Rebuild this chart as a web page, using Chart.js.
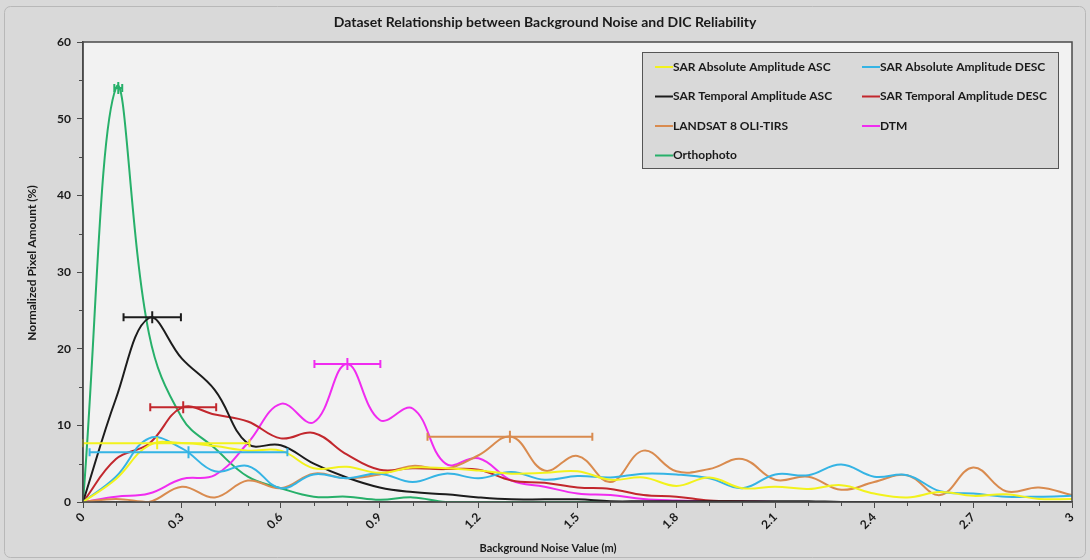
<!DOCTYPE html>
<html>
<head>
<meta charset="utf-8">
<script src="https://cdn.jsdelivr.net/npm/chart.js@4"></script>
<style>
  body { margin: 0; background: #d9d9d9; }
  canvas { display: block; }
</style>
</head>
<body>
<canvas id="noiseChart" width="1090" height="560"></canvas>
<script>
// sample positions along the x axis (m)
const noiseValues = [0, 0.1, 0.2, 0.3, 0.4, 0.5, 0.6, 0.7, 0.8, 0.9, 1.0, 1.1, 1.2, 1.3, 1.4, 1.5,
    1.6, 1.7, 1.8, 1.9, 2.0, 2.1, 2.2, 2.3, 2.4, 2.5, 2.6, 2.7, 2.8, 2.9, 3.0];

const sarAbsAsc = [0, 3.0, 7.4, 7.7, 7.3, 6.7, 6.7, 4.4, 4.6, 3.8, 4.5, 4.4, 4.1, 3.7, 3.8, 4.0,
    2.9, 3.2, 2.1, 3.2, 1.8, 2.0, 1.7, 2.2, 1.1, 0.6, 1.3, 0.8, 1.0, 0.4, 0.4];
const sarAbsDesc = [0, 3.3, 8.3, 7.0, 4.0, 4.7, 1.8, 3.6, 3.1, 3.7, 2.6, 3.7, 3.1, 3.9, 2.9, 3.4,
    3.2, 3.7, 3.6, 3.1, 1.8, 3.6, 3.5, 4.9, 3.3, 3.5, 1.4, 1.1, 0.7, 0.7, 0.8];
const sarTempAsc = [0, 13.5, 24.0, 18.7, 14.6, 7.6, 7.4, 5.0, 3.2, 1.9, 1.3, 1.0, 0.6, 0.35, 0.35, 0.35,
    0.1, 0.1, 0.1, 0.1, 0.1, 0.1, 0.1, 0, 0, 0, 0, 0, 0, 0, 0];
const sarTempDesc = [0, 5.6, 7.6, 12.3, 11.4, 10.5, 8.3, 9.0, 6.2, 4.2, 4.4, 4.3, 4.2, 2.8, 2.5, 1.9,
    1.7, 0.9, 0.7, 0.2, 0.1, 0, 0, 0, 0, 0, 0, 0, 0, 0, 0];
const landsat = [0, 0.4, 0, 2.0, 0.6, 2.8, 1.8, 3.7, 3.1, 3.6, 4.7, 4.3, 6.1, 8.5, 4.1, 6.0,
    2.6, 6.7, 4.0, 4.3, 5.6, 2.9, 3.3, 1.6, 2.6, 3.5, 0.9, 4.5, 1.4, 1.9, 0.9];
const dtm = [0, 0.7, 1.1, 3.0, 3.5, 7.7, 12.8, 10.4, 18.0, 10.7, 12.2, 5.0, 5.7, 2.8, 2.0, 1.1,
    0.9, 0.4, 0.2, 0.1, 0.1, 0, 0, 0, 0, 0, 0, 0, 0, 0, 0];
const orthophoto = [0, 54.0, 22.0, 11.0, 7.0, 3.3, 1.8, 0.7, 0.7, 0.3, 0.6, 0, 0, 0, 0, 0,
    0, 0, 0, 0, 0, 0, 0, 0, 0, 0, 0, 0, 0, 0, 0];

const seriesNames = ['SAR Absolute Amplitude ASC', 'SAR Absolute Amplitude DESC', 'SAR Temporal Amplitude ASC',
    'SAR Temporal Amplitude DESC', 'LANDSAT 8 OLI-TIRS', 'DTM', 'Orthophoto'];
const seriesValues = [sarAbsAsc, sarAbsDesc, sarTempAsc, sarTempDesc, landsat, dtm, orthophoto];
const seriesColors = ['#f2f21c', '#35b4e4', '#1c1c1c', '#c2272d', '#d98b4f', '#f02cf0', '#27b06a'];

// horizontal error bars: centre x, centre y, half width (same order as the series)
const errCenterX = [0.225, 0.32, 0.21, 0.304, 1.295, 0.802, 0.107];
const errCenterY = [7.65, 6.5, 24.1, 12.35, 8.5, 18.0, 54.0];
const errHalfWidth = [0.28, 0.30, 0.087, 0.10, 0.25, 0.10, 0.012];

const xTicks = [0, 0.3, 0.6, 0.9, 1.2, 1.5, 1.8, 2.1, 2.4, 2.7, 3];
const xTickLabels = ['0', '0.3', '0.6', '0.9', '1.2', '1.5', '1.8', '2.1', '2.4', '2.7', '3'];
const xMinorTicks = [0.1, 0.2, 0.4, 0.5, 0.7, 0.8, 1.0, 1.1, 1.3, 1.4, 1.6, 1.7, 1.9, 2.0, 2.2, 2.3, 2.5, 2.6, 2.8, 2.9];
const yMinorTicks = [5, 15, 25, 35, 45, 55];

const FONT = 'Lato, "Open Sans", sans-serif';

const chartFrame = {
    id: 'chartFrame',
    beforeDraw(chart) {
        const { ctx, chartArea: a } = chart;
        ctx.save();
        ctx.fillStyle = '#d9d9d9';
        ctx.fillRect(0, 0, chart.width, chart.height);
        ctx.strokeStyle = '#b8b8b8';
        ctx.lineWidth = 1;
        ctx.beginPath();
        ctx.roundRect(4.5, 6.5, chart.width - 9, chart.height - 9, 6);
        ctx.stroke();
        ctx.fillStyle = '#f2f2f2';
        ctx.fillRect(a.left, a.top, a.right - a.left, a.bottom - a.top);
        ctx.restore();
    },
    afterDatasetsDraw(chart) {
        const { ctx } = chart;
        const xs = chart.scales.x, ys = chart.scales.y;
        ctx.save();
        ctx.lineWidth = 2;
        seriesColors.forEach((color, i) => {
            const y = ys.getPixelForValue(errCenterY[i]);
            const cx = xs.getPixelForValue(errCenterX[i]);
            const lo = Math.max(0, errCenterX[i] - errHalfWidth[i]);
            const x1 = xs.getPixelForValue(lo);
            const x2 = xs.getPixelForValue(errCenterX[i] + errHalfWidth[i]);
            ctx.strokeStyle = color;
            ctx.beginPath();
            ctx.moveTo(x1, y); ctx.lineTo(x2, y);
            ctx.moveTo(x1, y - 4); ctx.lineTo(x1, y + 4);
            ctx.moveTo(x2, y - 4); ctx.lineTo(x2, y + 4);
            ctx.moveTo(cx, y - 6); ctx.lineTo(cx, y + 6);
            ctx.stroke();
        });
        ctx.restore();
    },
    afterDraw(chart) {
        const { ctx, chartArea: a } = chart;
        const xs = chart.scales.x, ys = chart.scales.y;
        ctx.save();
        // plot border
        ctx.strokeStyle = '#4a4a4a';
        ctx.lineWidth = 1.5;
        ctx.strokeRect(a.left, a.top, a.right - a.left, a.bottom - a.top);
        // minor ticks
        ctx.lineWidth = 1;
        ctx.beginPath();
        xMinorTicks.forEach((v) => {
            const x = Math.round(xs.getPixelForValue(v)) + 0.5;
            ctx.moveTo(x, a.bottom); ctx.lineTo(x, a.bottom + 4);
        });
        yMinorTicks.forEach((v) => {
            const y = Math.round(ys.getPixelForValue(v)) + 0.5;
            ctx.moveTo(a.left - 4, y); ctx.lineTo(a.left, y);
        });
        ctx.stroke();

        // titles
        ctx.fillStyle = '#1a1a1a';
        ctx.textAlign = 'center';
        ctx.textBaseline = 'middle';
        ctx.font = 'bold 14px ' + FONT;
        ctx.fillText('Dataset Relationship between Background Noise and DIC Reliability', 545, 22);
        ctx.font = 'bold 11px ' + FONT;
        ctx.fillText('Background Noise Value (m)', 548, 548);
        ctx.font = 'bold 12px ' + FONT;
        ctx.save();
        ctx.translate(32, 263);
        ctx.rotate(-Math.PI / 2);
        ctx.fillText('Normalized Pixel Amount (%)', 0, 0);
        ctx.restore();

        // legend box
        const bx = 642, by = 52, bw = 416, bh = 116;
        ctx.fillStyle = '#d9d9d9';
        ctx.fillRect(bx, by, bw, bh);
        ctx.strokeStyle = '#555';
        ctx.lineWidth = 1;
        ctx.strokeRect(bx + 0.5, by + 0.5, bw, bh);
        ctx.font = 'bold 12px ' + FONT;
        ctx.textAlign = 'left';
        seriesNames.forEach((name, i) => {
            const col = i % 2, row = Math.floor(i / 2);
            const lx = col === 0 ? 655 : 862;
            const ly = 67 + row * 29.5;
            ctx.strokeStyle = seriesColors[i];
            ctx.lineWidth = 2;
            ctx.beginPath();
            ctx.moveTo(lx, ly); ctx.lineTo(lx + 18, ly);
            ctx.stroke();
            ctx.fillStyle = '#1a1a1a';
            ctx.fillText(name, lx + 18, ly);
        });
        ctx.restore();
    },
};

const datasets = seriesNames.map((name, i) => ({
    label: name,
    data: noiseValues.map((x, k) => ({ x, y: seriesValues[i][k] })),
    borderColor: seriesColors[i],
    borderWidth: 2,
    pointRadius: 0,
    tension: 0.4,
    fill: false,
}));

new Chart(document.getElementById('noiseChart'), {
    type: 'line',
    data: { datasets },
    options: {
        responsive: false,
        animation: false,
        layout: { padding: { top: 42, right: 18, left: 0, bottom: 0 } },
        plugins: {
            legend: { display: false },
            title: { display: false },
            tooltip: { enabled: false },
        },
        scales: {
            x: {
                type: 'linear',
                min: 0,
                max: 3,
                afterBuildTicks: (scale) => { scale.ticks = xTicks.map((value) => ({ value })); },
                afterFit: (scale) => { scale.height = 58; },
                ticks: {
                    callback: (value, index) => xTickLabels[index],
                    minRotation: 45,
                    maxRotation: 45,
                    color: '#1a1a1a',
                    font: { family: FONT, size: 12, weight: 'bold' },
                    padding: 2,
                },
                grid: { drawOnChartArea: false, tickLength: 6, color: '#4a4a4a' },
                border: { color: '#4a4a4a', width: 1.5 },
            },
            y: {
                min: 0,
                max: 60,
                afterFit: (scale) => { scale.width = 83; },
                ticks: {
                    stepSize: 10,
                    color: '#1a1a1a',
                    font: { family: FONT, size: 12, weight: 'bold' },
                    padding: 6,
                },
                grid: { drawOnChartArea: false, tickLength: 6, color: '#4a4a4a' },
                border: { color: '#4a4a4a', width: 1.5 },
            },
        },
    },
    plugins: [chartFrame],
});
</script>
</body>
</html>
